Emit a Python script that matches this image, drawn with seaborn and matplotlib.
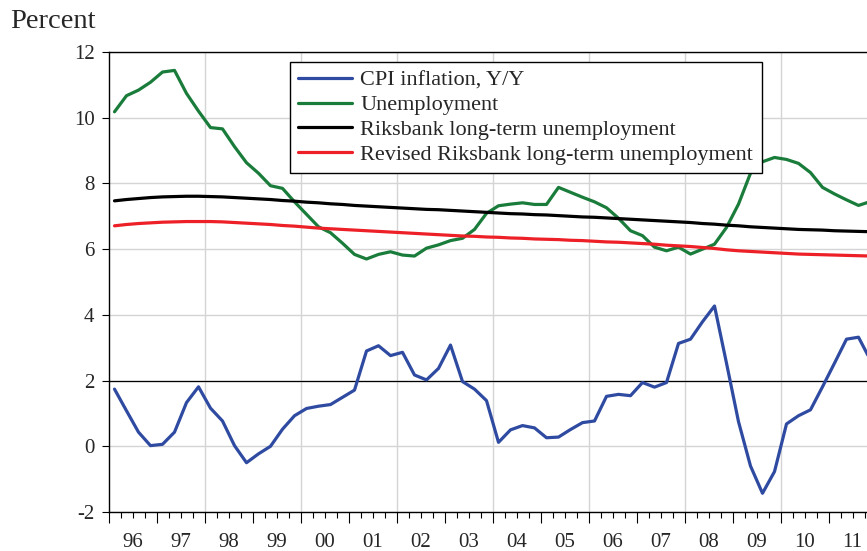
import matplotlib
matplotlib.use('Agg')
import matplotlib.pyplot as plt
import pandas as pd
import seaborn as sns

# quarterly data 1996Q1 - 2011Q4, percent
years = list(range(1996, 2012))
year_labels = ['96', '97', '98', '99', '00', '01', '02', '03',
               '04', '05', '06', '07', '08', '09', '10', '11']

cpi = [1.74, 1.08, 0.43, 0.02, 0.06, 0.43, 1.33, 1.81,
       1.16, 0.77, 0.02, -0.50, -0.23, 0.00, 0.52, 0.93,
       1.15, 1.22, 1.27, 1.49, 1.71, 2.90, 3.06, 2.76,
       2.86, 2.17, 2.02, 2.37, 3.08, 1.97, 1.74, 1.39,
       0.12, 0.50, 0.63, 0.56, 0.26, 0.28, 0.51, 0.72,
       0.77, 1.52, 1.58, 1.54, 1.94, 1.80, 1.94, 3.13,
       3.26, 3.79, 4.27, 2.53, 0.75, -0.60, -1.43, -0.77,
       0.68, 0.93, 1.11, 1.81, 2.53, 3.26, 3.32, 2.62]

unemployment = [10.18, 10.67, 10.84, 11.08, 11.39, 11.44, 10.74, 10.20,
                9.70, 9.66, 9.12, 8.63, 8.31, 7.93, 7.85, 7.44,
                7.06, 6.68, 6.50, 6.18, 5.84, 5.70, 5.84, 5.92,
                5.82, 5.79, 6.03, 6.13, 6.26, 6.33, 6.60, 7.09,
                7.32, 7.37, 7.41, 7.36, 7.36, 7.88, 7.73, 7.58,
                7.44, 7.26, 6.94, 6.56, 6.41, 6.06, 5.95, 6.06,
                5.85, 6.00, 6.15, 6.66, 7.37, 8.31, 8.66, 8.79,
                8.73, 8.61, 8.33, 7.88, 7.68, 7.50, 7.33, 7.45]

riksbank_lt = [7.47, 7.51, 7.54, 7.57, 7.59, 7.60, 7.61, 7.61,
               7.60, 7.59, 7.57, 7.55, 7.53, 7.51, 7.48, 7.46,
               7.43, 7.41, 7.38, 7.36, 7.33, 7.31, 7.29, 7.27,
               7.25, 7.23, 7.21, 7.20, 7.18, 7.16, 7.14, 7.12,
               7.10, 7.08, 7.07, 7.05, 7.04, 7.02, 7.00, 6.98,
               6.97, 6.95, 6.93, 6.91, 6.89, 6.87, 6.85, 6.83,
               6.81, 6.78, 6.76, 6.73, 6.71, 6.68, 6.66, 6.64,
               6.62, 6.60, 6.59, 6.58, 6.56, 6.55, 6.54, 6.53]

revised_lt = [6.71, 6.75, 6.78, 6.80, 6.82, 6.83, 6.84, 6.84,
              6.84, 6.83, 6.81, 6.79, 6.77, 6.75, 6.72, 6.70,
              6.67, 6.64, 6.62, 6.60, 6.58, 6.56, 6.54, 6.52,
              6.50, 6.48, 6.46, 6.44, 6.42, 6.40, 6.39, 6.37,
              6.36, 6.34, 6.33, 6.31, 6.30, 6.29, 6.27, 6.26,
              6.24, 6.22, 6.21, 6.19, 6.17, 6.15, 6.12, 6.10,
              6.08, 6.05, 6.02, 5.98, 5.95, 5.93, 5.91, 5.89,
              5.87, 5.85, 5.84, 5.83, 5.82, 5.81, 5.80, 5.79]

names = ['CPI inflation, Y/Y', 'Unemployment',
         'Riksbank long-term unemployment',
         'Revised Riksbank long-term unemployment']
colors = ['#2f4ba1', '#1a7c3a', '#000000', '#ee2027']

# quarter -> decimal year (middle of quarter)
t = [y + (q - 0.5) / 4 for y in years for q in range(1, 5)]
df = pd.DataFrame({'t': t, names[0]: cpi, names[1]: unemployment,
                   names[2]: riksbank_lt, names[3]: revised_lt})
long = df.melt(id_vars='t', var_name='series', value_name='value')

sns.set_theme(style='white')
plt.rcParams['font.family'] = ['Liberation Serif', 'DejaVu Serif']
plt.rcParams['axes.unicode_minus'] = False

fig = plt.figure(figsize=(8.67, 5.51), dpi=100)
ax = fig.add_axes([108.5 / 867, 39 / 551, 768 / 867, 460 / 551])

# grid: every 2 units / every 2 years
ax.set_yticks(range(-2, 13, 2))
ax.grid(axis='y', color='#d4d4d4', lw=1.0, zorder=0)
for yr in range(1998, 2012, 2):
    ax.axvline(yr, color='#d4d4d4', lw=1.0, zorder=0)
ax.axhline(2, color='black', lw=0.9, zorder=1)

sns.lineplot(data=long, x='t', y='value', hue='series', hue_order=names,
             palette=dict(zip(names, colors)), lw=2.3, ax=ax, zorder=3)

ax.set_xlim(1996, 2012)
ax.set_ylim(-2, 12)
ax.set_xlabel('')
ax.set_ylabel('')

# year ticks (long), quarter ticks (short) with labels mid-year
ax.set_xticks(years + [2012], labels=[''] * 17)
qt = [y + k / 4 for y in years for k in (1, 2, 3)]
ql = []
for lab in year_labels:
    ql += ['', lab, '']
ax.set_xticks(qt, labels=ql, minor=True)
ax.tick_params(axis='x', which='major', direction='out', length=8,
               width=0.8, color='black', bottom=True)
ax.tick_params(axis='x', which='minor', direction='out', length=4.5,
               width=0.8, color='black', bottom=True, labelsize=15, pad=10.5)
ax.tick_params(axis='y', direction='out', length=5, width=0.8,
               color='black', left=True, labelsize=15, pad=5)

for s in ax.spines.values():
    s.set_color('black')
    s.set_linewidth(1.0)

handles, labels = ax.get_legend_handles_labels()
leg = ax.legend(handles, labels, loc='upper left',
                bbox_to_anchor=(0.2363, 0.979), borderaxespad=0,
                fontsize=16, frameon=True, fancybox=False,
                edgecolor='black', framealpha=1, handlelength=2.4,
                handletextpad=0.38, labelspacing=0.19, borderpad=0.38)
leg.get_frame().set_linewidth(1.0)
leg.set_zorder(5)

fig.text(10 / 867, 1 - 28.5 / 551, 'Percent', fontsize=20.5,
         ha='left', va='baseline')

fig.savefig('out.png', dpi=100)
